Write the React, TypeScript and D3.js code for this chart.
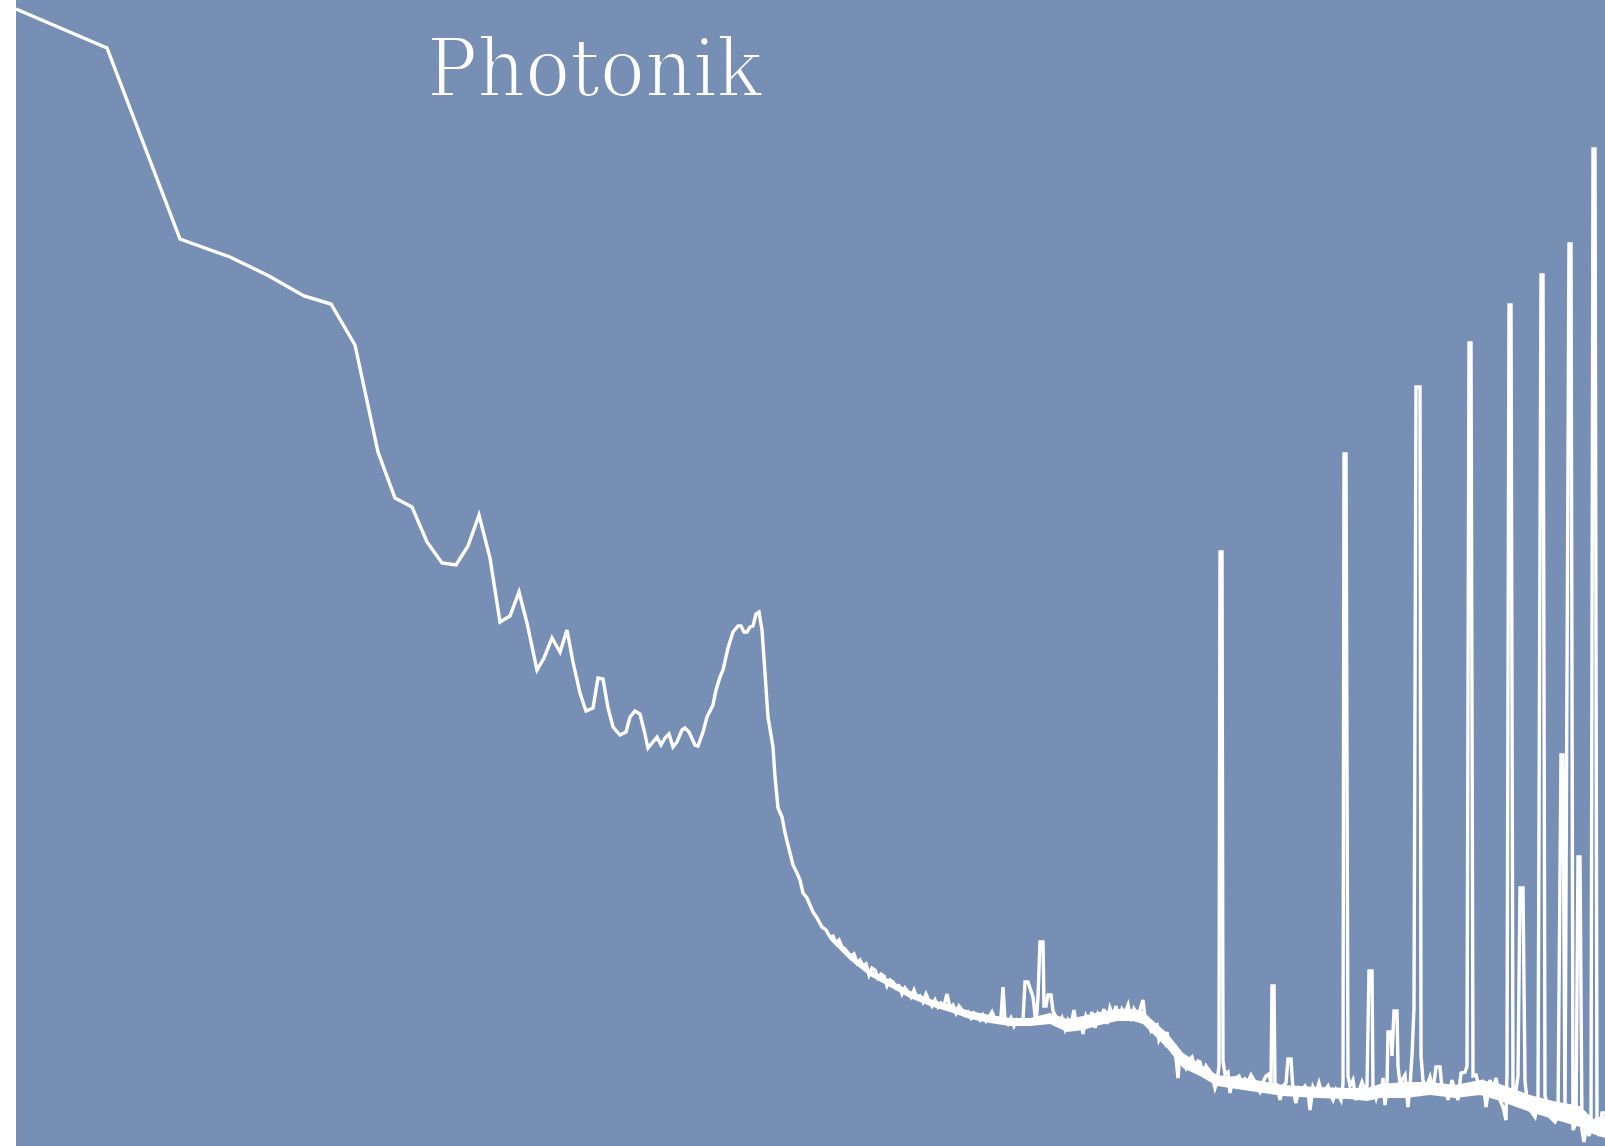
import React from "react";
import * as d3 from "d3";

const TITLE = "Photonik";
const WIDTH = 1605;
const HEIGHT = 1146;
const CHANNEL_MAX = 1589;
const COUNT_MAX = 1146;
const BG = "#778fb4";

// [channel, counts] – broad, sparsely sampled part of the spectrum
const broadBand: [number, number][] = [
  [0, 1137], [91, 1098], [164, 907], [214, 889], [253, 870], [288, 850], [315, 842],
  [339, 801], [362, 694], [379, 648], [396, 639], [411, 604], [426, 583], [440, 581],
  [452, 600], [463, 631], [474, 588], [484, 524], [494, 530], [503, 554], [511, 523],
  [521, 476], [528, 488], [536, 508], [544, 494], [551, 516], [557, 484], [564, 453],
  [570, 435], [577, 438], [582, 468], [587, 467], [592, 438], [597, 419], [604, 411],
  [610, 414], [614, 429], [619, 435], [624, 432], [628, 416], [632, 398], [641, 409],
  [645, 401], [649, 408], [653, 412], [657, 399], [661, 404], [666, 416], [669, 418],
  [673, 414], [679, 401], [682, 400], [687, 414], [691, 429], [697, 441], [700, 456],
  [704, 469], [707, 476], [712, 498], [717, 514], [722, 520], [725, 520], [728, 514],
  [731, 514], [734, 519], [737, 520], [740, 532], [743, 534], [746, 516], [749, 473],
  [752, 429], [757, 399], [759, 369], [761, 349], [762, 338], [766, 329], [769, 313],
  [772, 301], [774, 293], [777, 281], [781, 273], [784, 266], [787, 253], [791, 248],
  [794, 241], [797, 234], [801, 228], [806, 219], [810, 216], [814, 209],
];

// [channel, counts] – densely sampled tail with noise and emission lines
const lineRegion: [number, number][] = [
  [817, 210], [820, 203], [823, 206], [826, 199], [829, 197], [832, 193], [835, 190],
  [838, 192], [841, 183], [844, 186], [847, 180], [850, 182], [853, 171], [856, 178],
  [859, 176], [862, 168], [865, 172], [868, 170], [871, 160], [874, 166], [877, 164],
  [880, 158], [883, 160], [886, 152], [889, 158], [892, 154], [895, 149], [898, 156],
  [901, 148], [904, 150], [907, 144], [910, 152], [913, 145], [916, 140], [919, 146],
  [922, 139], [925, 143], [928, 140], [931, 152], [934, 138], [937, 141], [940, 133],
  [943, 140], [946, 136], [949, 131], [952, 134], [955, 128], [958, 133], [961, 130],
  [964, 126], [967, 131], [970, 125], [973, 129], [976, 134], [979, 127], [982, 124],
  [985, 130], [987, 159], [989, 126], [992, 122], [995, 128], [998, 120], [1001, 126],
  [1004, 123], [1007, 126], [1009, 164], [1012, 164], [1014, 158], [1017, 149],
  [1020, 122], [1022, 149], [1024, 204], [1027, 204], [1028, 140], [1030, 140],
  [1032, 151], [1035, 151], [1037, 135], [1040, 129], [1043, 122], [1046, 128],
  [1049, 117], [1052, 126], [1055, 121], [1058, 136], [1061, 118], [1064, 128],
  [1067, 112], [1070, 130], [1073, 124], [1076, 134], [1079, 118], [1082, 132],
  [1085, 127], [1088, 137], [1091, 122], [1094, 138], [1097, 130], [1100, 140],
  [1103, 126], [1106, 137], [1109, 133], [1112, 141], [1115, 125], [1118, 137],
  [1121, 132], [1124, 136], [1127, 146], [1129, 128], [1132, 124], [1135, 115],
  [1138, 119], [1141, 121], [1143, 106], [1146, 112], [1149, 104], [1151, 114],
  [1153, 100], [1156, 95], [1159, 98], [1162, 68], [1164, 94], [1167, 84], [1170, 78],
  [1173, 86], [1176, 89], [1179, 78], [1182, 85], [1184, 84], [1187, 70], [1190, 80],
  [1193, 76], [1196, 71], [1199, 58], [1201, 64], [1203, 80], [1204, 594], [1206, 594],
  [1207, 85], [1209, 72], [1212, 74], [1214, 53], [1217, 68], [1220, 68], [1223, 70],
  [1226, 62], [1229, 67], [1232, 64], [1235, 71], [1238, 66], [1241, 58], [1244, 54],
  [1247, 64], [1250, 70], [1253, 72], [1255, 62], [1256, 160], [1258, 160], [1259, 58],
  [1261, 60], [1264, 46], [1267, 60], [1270, 63], [1272, 87], [1275, 87], [1277, 56],
  [1280, 43], [1283, 58], [1286, 56], [1289, 60], [1292, 55], [1294, 36], [1297, 59],
  [1300, 53], [1303, 63], [1306, 52], [1309, 56], [1312, 60], [1315, 50], [1317, 46],
  [1320, 56], [1323, 50], [1325, 46], [1327, 62], [1328, 692], [1330, 692], [1332, 70],
  [1334, 60], [1337, 66], [1340, 46], [1343, 55], [1346, 64], [1349, 56], [1351, 60],
  [1353, 175], [1356, 175], [1357, 58], [1360, 48], [1363, 60], [1365, 50], [1367, 68],
  [1369, 41], [1371, 60], [1372, 114], [1375, 114], [1376, 90], [1378, 135], [1381, 135],
  [1382, 80], [1384, 62], [1386, 66], [1389, 71], [1392, 39], [1394, 60], [1396, 90],
  [1398, 138], [1400, 759], [1404, 759], [1405, 90], [1407, 66], [1410, 58], [1414, 69],
  [1417, 56], [1420, 79], [1424, 79], [1426, 58], [1429, 60], [1432, 46], [1436, 66],
  [1439, 56], [1442, 46], [1445, 73], [1449, 74], [1451, 80], [1453, 803], [1455, 803],
  [1457, 70], [1460, 71], [1464, 56], [1467, 66], [1470, 39], [1474, 66], [1477, 56],
  [1480, 68], [1484, 46], [1487, 39], [1490, 26], [1491, 73], [1493, 841], [1495, 841],
  [1497, 56], [1499, 49], [1502, 70], [1504, 258], [1507, 258], [1509, 65], [1511, 46],
  [1514, 36], [1519, 29], [1522, 46], [1525, 871], [1527, 871], [1529, 50], [1531, 43],
  [1534, 29], [1539, 24], [1542, 29], [1545, 391], [1547, 391], [1549, 36], [1553, 902],
  [1555, 902], [1557, 16], [1560, 23], [1562, 289], [1564, 289], [1566, 16], [1568, 4],
  [1571, 23], [1573, 10], [1575, 16], [1577, 997], [1579, 997], [1581, 16], [1583, 10],
  [1586, 33], [1589, 33],
];

// [channel, upper counts, lower counts] – envelope of the dense noise band
const noiseEnvelope: [number, number, number][] = [
  [814, 211, 206], [834, 192, 186], [854, 176, 170], [874, 166, 159], [894, 155, 148],
  [914, 147, 140], [934, 141, 134], [954, 135, 127], [974, 131, 123], [994, 128, 120],
  [1014, 128, 120], [1034, 133, 122], [1051, 127, 114], [1067, 130, 116], [1084, 134, 121],
  [1101, 137, 125], [1117, 137, 125], [1127, 135, 122], [1134, 128, 115], [1151, 113, 98],
  [1167, 93, 78], [1184, 82, 70], [1201, 71, 60], [1234, 67, 55], [1267, 61, 50],
  [1301, 59, 48], [1334, 58, 47], [1351, 58, 45], [1364, 62, 48], [1389, 64, 48],
  [1414, 64, 51], [1439, 61, 48], [1464, 66, 51], [1481, 63, 46], [1514, 51, 34],
  [1537, 45, 27], [1564, 40, 19], [1577, 27, 12], [1589, 31, 8],
];

export default function App() {
  const x = d3.scaleLinear().domain([0, CHANNEL_MAX]).range([16, WIDTH]);
  const y = d3.scaleLinear().domain([0, COUNT_MAX]).range([HEIGHT, 0]);
  const line = d3
    .line<[number, number]>()
    .x((d) => x(d[0]))
    .y((d) => y(d[1]));
  const band = d3
    .area<[number, number, number]>()
    .x((d) => x(d[0]))
    .y0((d) => y(d[2]))
    .y1((d) => y(d[1]));
  const data = [...broadBand, ...lineRegion];

  return (
    <svg
      width={WIDTH}
      height={HEIGHT}
      style={{ position: "absolute", left: 0, top: 0, display: "block" }}
    >
      <rect x={0} y={0} width={WIDTH} height={HEIGHT} fill="#ffffff" />
      <rect x={x(0)} y={0} width={WIDTH - x(0)} height={HEIGHT} fill={BG} />
      <path d={band(noiseEnvelope) ?? ""} fill="#ffffff" stroke="none" />
      <path d={line(data) ?? ""} fill="none" stroke="#ffffff" strokeWidth={3.4} />
      <text
        x={427}
        y={96}
        fill="#ffffff"
        stroke={BG}
        strokeWidth={2.2}
        fontFamily="'DejaVu Serif', serif"
        fontSize={80}
        textLength={335}
        lengthAdjust="spacingAndGlyphs"
      >
        {TITLE}
      </text>
    </svg>
  );
}
